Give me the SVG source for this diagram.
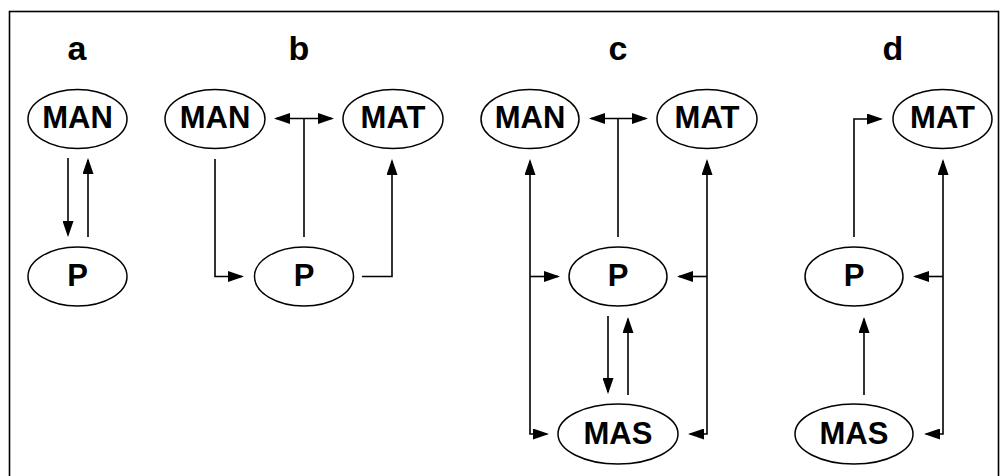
<svg xmlns="http://www.w3.org/2000/svg" width="1000" height="476" viewBox="0 0 1000 476">
<style>
  .node ellipse { fill: #fff; stroke: #000; stroke-width: 1.5; }
  .node text, .lbl { font-family: "Liberation Sans", Arial, sans-serif; font-weight: bold; fill: #000; text-anchor: middle; }
  .node text { font-size: 31px; }
  .lbl { font-size: 34px; }
  .conn path { fill: none; stroke: #000; stroke-width: 1.6; marker-end: url(#ah); }
  .conn path.plain { marker-end: none; }
  .conn path.dbl { marker-start: url(#ah); }
</style>
<defs>
  <marker id="ah" markerUnits="userSpaceOnUse" markerWidth="16" markerHeight="11" refX="14" refY="5.5" orient="auto-start-reverse">
    <path d="M0,0 L16,5.5 L0,11 z" fill="#000"/>
  </marker>
</defs>
<rect x="9.5" y="11.5" width="989" height="480" fill="none" stroke="#000" stroke-width="1.6"/>

<g id="labels">
  <text class="lbl" x="77" y="60">a</text>
  <text class="lbl" x="299" y="60">b</text>
  <text class="lbl" x="618" y="60">c</text>
  <text class="lbl" x="893" y="60">d</text>
</g>

<g class="conn" id="connectors">
  <!-- a -->
  <path d="M68,158 V235"/>
  <path d="M88,237 V160"/>
  <!-- b -->
  <path d="M215,159 V276.5 H242"/>
  <path class="dbl" d="M276,118.5 H332"/>
  <path class="plain" d="M304,118.5 V237"/>
  <path d="M362,276.5 H392 V161"/>
  <!-- c -->
  <path class="dbl" d="M591,118.5 H646"/>
  <path class="plain" d="M618,118.5 V237"/>
  <path class="dbl" d="M530,161 V434 H547"/>
  <path d="M530,276.5 H558"/>
  <path class="dbl" d="M707,161 V434 H690"/>
  <path d="M707,276.5 H679"/>
  <path d="M608,316 V392"/>
  <path d="M628,395 V319"/>
  <!-- d -->
  <path d="M854,237 V119 H881"/>
  <path class="dbl" d="M943,161 V434 H926"/>
  <path d="M943,276.5 H915"/>
  <path d="M864,395 V319"/>
</g>

<g id="a-MAN" class="node"><ellipse cx="77.5" cy="119" rx="49.5" ry="29.5"/><text x="77.5" y="128">MAN</text></g>
<g id="a-P" class="node"><ellipse cx="77.5" cy="276.5" rx="49.5" ry="29.5"/><text x="77.5" y="286">P</text></g>

<g id="b-MAN" class="node"><ellipse cx="215" cy="119" rx="50" ry="29.5"/><text x="215" y="128">MAN</text></g>
<g id="b-MAT" class="node"><ellipse cx="393" cy="119" rx="50" ry="29.5"/><text x="393" y="128">MAT</text></g>
<g id="b-P" class="node"><ellipse cx="304" cy="276.5" rx="49.5" ry="29.5"/><text x="304" y="286">P</text></g>

<g id="c-MAN" class="node"><ellipse cx="530" cy="119" rx="49" ry="29.5"/><text x="530" y="128">MAN</text></g>
<g id="c-MAT" class="node"><ellipse cx="707" cy="119" rx="50" ry="29.5"/><text x="707" y="128">MAT</text></g>
<g id="c-P" class="node"><ellipse cx="618" cy="276.5" rx="49" ry="29.5"/><text x="618" y="286">P</text></g>
<g id="c-MAS" class="node"><ellipse cx="618" cy="434" rx="60" ry="30"/><text x="618" y="444">MAS</text></g>

<g id="d-MAT" class="node"><ellipse cx="942.5" cy="119" rx="49.5" ry="29.5"/><text x="942.5" y="128">MAT</text></g>
<g id="d-P" class="node"><ellipse cx="854" cy="276.5" rx="49" ry="29.5"/><text x="854" y="286">P</text></g>
<g id="d-MAS" class="node"><ellipse cx="854" cy="434" rx="59" ry="30"/><text x="854" y="444">MAS</text></g>
</svg>
